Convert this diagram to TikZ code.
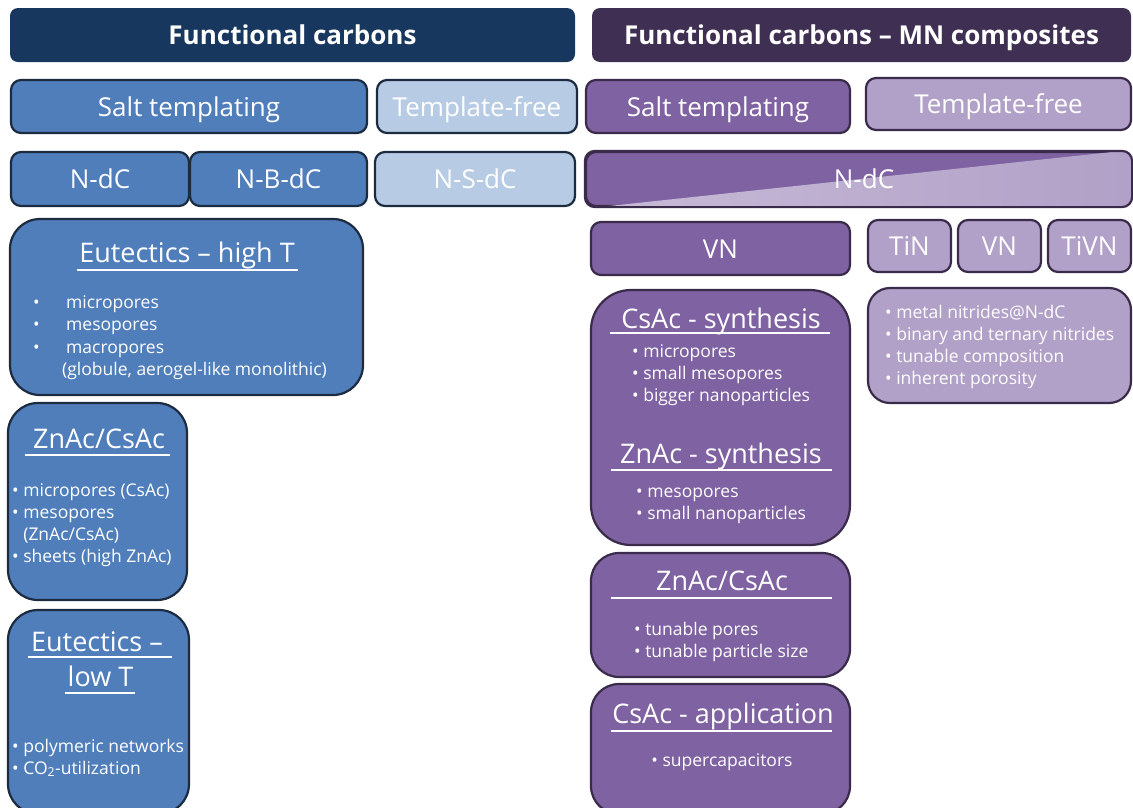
\documentclass[tikz,border=0pt]{standalone}
\usepackage{fontspec}
\setmainfont{Open Sans}
\definecolor{navy}{HTML}{18375E}
\definecolor{dpurple}{HTML}{3F2F53}
\definecolor{mblue}{HTML}{4F7EBB}
\definecolor{lblue}{HTML}{B7CCE4}
\definecolor{mpurp}{HTML}{7F62A1}
\definecolor{lpurp}{HTML}{B1A0C7}
\definecolor{bbord}{HTML}{1C2B40}
\definecolor{pbord}{HTML}{3A2B4B}
\tikzset{
  hdr/.style={fill=#1, rounded corners=8pt, inner sep=0pt, text=white,
    font=\fontsize{26}{30}\selectfont\bfseries, text height=18.5pt, text depth=0pt},
  bb/.style={draw=bbord, line width=2.2pt, rounded corners=10pt, inner sep=0pt, text=white,
    font=\fontsize{26}{30}\selectfont, text height=19pt, text depth=0pt},
  pb/.style={draw=pbord, line width=2.2pt, rounded corners=10pt, inner sep=0pt, text=white,
    font=\fontsize{26}{30}\selectfont, text height=19pt, text depth=0pt},
  ttl/.style={anchor=base, inner sep=0pt, text=white, font=\fontsize{27}{32}\selectfont},
  itm/.style={anchor=base west, inner sep=0pt, text=white, font=\fontsize{17.5}{21}\selectfont},
  ul/.style={draw=white, line width=1.3pt}
}
\newcommand{\blist}[5]{%
  \foreach \t [count=\k] in {#5}{\node[itm] (#1\k) at (#2,{#3+#4*(\k-1)}) {\t};}}
\begin{document}
\begin{tikzpicture}[x=1pt,y=-1pt]
\useasboundingbox (0,0) rectangle (1133,807);
\clip (0,0) rectangle (1133,807);
% headers
\node[hdr=navy, minimum width=565, minimum height=54] (hL) at (292.5,35) {Functional carbons};
\node[hdr=dpurple, minimum width=539, minimum height=54] (hR) at (861.5,35) {Functional carbons – MN composites};
% left rows
\node[bb, fill=mblue, minimum width=356, minimum height=53] (stL) at (189,106.5) {Salt templating};
\node[bb, fill=lblue, minimum width=200, minimum height=53] (tfL) at (477,106.5) {Template-free};
\node[bb, fill=mblue, minimum width=178, minimum height=54] (n1) at (100,179) {N-dC};
\node[bb, fill=mblue, minimum width=177, minimum height=54] (n2) at (278.5,179) {N-B-dC};
\node[bb, fill=lblue, minimum width=200, minimum height=54] (n3) at (475,179) {N-S-dC};
% right rows
\node[pb, fill=mpurp, minimum width=264, minimum height=53] (stR) at (718,106.5) {Salt templating};
\node[pb, fill=lpurp, minimum width=265, minimum height=52] (tfR) at (998.5,104) {Template-free};
\node[pb, fill=mpurp, minimum width=545, minimum height=54] (ndR) at (858.5,179) {};
\begin{scope}
  \clip[rounded corners=10pt] (ndR.south west) rectangle (ndR.north east);
  \shade[left color=lpurp!72!white, right color=lpurp] ([xshift=14pt]ndR.south west) -- ([xshift=-10pt]ndR.north east) -- (ndR.north east) -- (ndR.south east) -- cycle;
\end{scope}
\draw[draw=pbord, line width=2.2pt, rounded corners=10pt] (ndR.south west) rectangle (ndR.north east);
\node[text=white, inner sep=0pt, font=\fontsize{26}{30}\selectfont, text height=19pt, text depth=0pt] (ndRt) at (864,179) {N-dC};
% left big boxes
\node[bb, fill=mblue, rounded corners=30pt, minimum width=353, minimum height=176] (eh) at (186.5,307) {};
\node[bb, fill=mblue, rounded corners=30pt, minimum width=179, minimum height=197] (zcL) at (97.5,501.5) {};
\node[bb, fill=mblue, rounded corners=30pt, minimum width=181, minimum height=204] (el) at (98.5,712) {};
% right boxes
\node[pb, fill=mpurp, minimum width=259, minimum height=53] (vn) at (720.5,248.5) {VN};
\node[pb, fill=lpurp, minimum width=83, minimum height=52] (tin) at (909.5,246) {TiN};
\node[pb, fill=lpurp, minimum width=83, minimum height=52] (vn2) at (999.5,246) {VN};
\node[pb, fill=lpurp, minimum width=83, minimum height=52] (tivn) at (1089.5,246) {TiVN};
\node[pb, fill=lpurp, rounded corners=22pt, minimum width=263, minimum height=115] (mn) at (999.5,345.5) {};
\node[pb, fill=mpurp, rounded corners=40pt, minimum width=259, minimum height=255] (cs) at (720.5,417.5) {};
\node[pb, fill=mpurp, rounded corners=28pt, minimum width=259, minimum height=124] (zcR) at (720.5,615) {};
\node[pb, fill=mpurp, rounded corners=28pt, minimum width=259, minimum height=130] (ca) at (720.5,749) {};
% titles and underlines
\node[ttl] (ehT) at (187,262) {Eutectics – high T};
\draw[ul] (77,270) -- (298,270);
\node[ttl] (zcLT) at (99,448) {ZnAc/CsAc};
\draw[ul] (25,455) -- (170,455);
\node[ttl] (elT1) at (97,651) {Eutectics –};
\draw[ul] (28,657) -- (172,657);
\node[ttl] (elT2) at (100.5,686) {low T};
\draw[ul] (65,693) -- (135,693);
\node[ttl] (csT) at (721,328) {CsAc - synthesis};
\draw[ul] (610,333) -- (830,333);
\node[ttl] (zsT) at (721,463) {ZnAc - synthesis};
\draw[ul] (611,470) -- (832,470);
\node[ttl] (zrT) at (722,590) {ZnAc/CsAc};
\draw[ul] (611,598) -- (832,598);
\node[ttl] (caT) at (723,723) {CsAc - application};
\draw[ul] (611,731) -- (832,731);
% bullet lists
\blist{eh}{33}{308}{22.5}{\makebox[33pt][l]{•}micropores, \makebox[33pt][l]{•}mesopores, \makebox[33pt][l]{•}macropores, {\hspace*{29pt}(globule, aerogel-like monolithic)}}
\blist{zl}{12}{496}{22}{• micropores (CsAc), • mesopores, \phantom{• }(ZnAc/CsAc), • sheets (high ZnAc)}
\blist{lw}{12}{752}{22}{• polymeric networks, • CO\textsubscript{2}-utilization}
\blist{cs}{632}{357}{22}{• micropores, • small mesopores, • bigger nanoparticles}
\blist{zs}{636}{497}{22}{• mesopores, • small nanoparticles}
\blist{zr}{634}{635}{22}{• tunable pores, • tunable particle size}
\node[itm, anchor=base] (ca1) at (722,766) {• supercapacitors};
\blist{mn}{885}{318}{22.3}{• metal nitrides@N-dC, • binary and ternary nitrides, • tunable composition, • inherent porosity}
\end{tikzpicture}
\end{document}
